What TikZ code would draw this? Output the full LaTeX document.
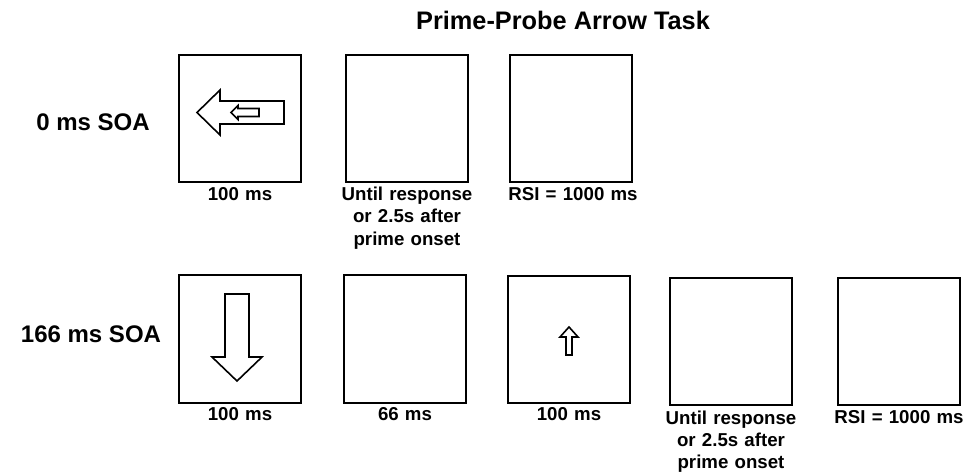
\documentclass[tikz,border=0pt]{standalone}
\usepackage{fontspec}
\setmainfont{Liberation Sans}
\tikzset{
  frame/.style={draw=black, line width=1.5pt, minimum width=91.5pt, minimum height=95.5pt, inner sep=0pt},
  lbl/.style={font=\bfseries\fontsize{14}{16.7}\selectfont, anchor=base, text width=150pt, align=center, inner sep=0pt},
  rowlbl/.style={font=\bfseries\fontsize{18}{21}\selectfont, anchor=base, inner sep=0pt},
  ttl/.style={font=\bfseries\fontsize{19}{22}\selectfont, anchor=base, inner sep=0pt},
  stim/.style={draw=black, line width=1.2pt, line join=miter, fill=white}
}
\begin{document}
\begin{tikzpicture}[x=0.75pt, y=-0.75pt]
\useasboundingbox (0,0) rectangle (966,475);
\fill[white] (0,0) rectangle (966,475);

% title
\node[ttl] (title) at (563,29.5) {Prime-Probe Arrow Task};

% row labels
\node[rowlbl] (r0) at (93,130) {0 ms SOA};
\node[rowlbl] (r1) at (91,342) {166 ms SOA};

% top row boxes
\node[frame, minimum height=95.25pt] (a1) at (240,118.5) {};
\node[frame, minimum height=95.25pt] (a2) at (407,118.5) {};
\node[frame, minimum height=95.25pt] (a3) at (571,118.5) {};

% bottom row boxes
\node[frame] (b1) at (240,339) {};
\node[frame] (b2) at (405,339) {};
\node[frame] (b3) at (569,339.5) {};
\node[frame] (b4) at (731,341.5) {};
\node[frame] (b5) at (899,341.5) {};

% top labels
\node[lbl] (la1) at (240,200.5) {100 ms};
\node[lbl] (la2) at (407,200.5) {Until response\\or 2.5s after\\prime onset};
\node[lbl] (la3) at (573,200.5) {RSI = 1000 ms};

% bottom labels
\node[lbl] (lb1) at (240,420.7) {100 ms};
\node[lbl] (lb2) at (405,420.7) {66 ms};
\node[lbl] (lb3) at (569,420.7) {100 ms};
\node[lbl] (lb4) at (731,424) {Until response\\or 2.5s after\\prime onset};
\node[lbl] (lb5) at (899,423.5) {RSI = 1000 ms};

% big left arrow (prime)
\draw[stim] (197,112.5) -- (220,90) -- (220,101) -- (284,101) -- (284,124) -- (220,124) -- (220,135) -- cycle;
% small left arrow (probe)
\draw[stim] (231,112.5) -- (238,105.5) -- (238,108.5) -- (259,108.5) -- (259,116.5) -- (238,116.5) -- (238,119.5) -- cycle;

% big down arrow
\draw[stim] (225,294) -- (249,294) -- (249,357) -- (262,357) -- (237,381) -- (212,357) -- (225,357) -- cycle;

% small up arrow
\draw[stim] (569,327) -- (578,337) -- (572,337) -- (572,355) -- (566,355) -- (566,337) -- (560,337) -- cycle;
\end{tikzpicture}
\end{document}
